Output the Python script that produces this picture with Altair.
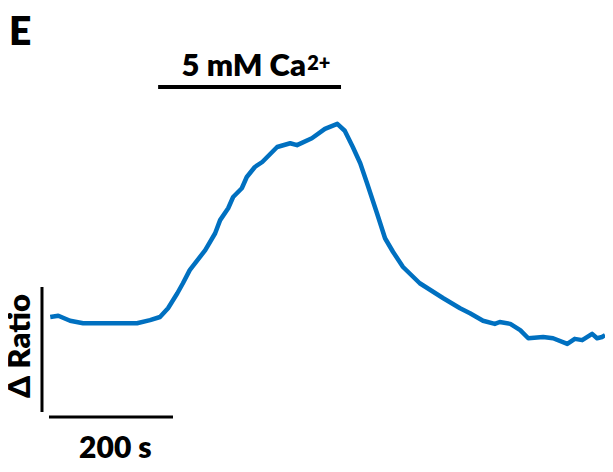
import altair as alt
import pandas as pd

# ---- trace data (time in s, fluorescence ratio) ----
time_s = [2, 15, 34, 55, 82, 110, 142, 163, 179, 192, 207, 216, 227, 252, 268,
          276, 289, 297, 311, 319, 332, 344, 352, 368, 389, 400, 424, 445, 465,
          477, 490, 502, 513, 529, 542, 555, 571, 598, 636, 663, 679, 700, 719,
          727, 744, 760, 773, 797, 813, 836, 848, 860, 876, 884, 892, 897]
ratio = [1.008, 1.010, 1.002, 0.998, 0.998, 0.998, 0.998, 1.003, 1.008, 1.022,
         1.046, 1.062, 1.083, 1.115, 1.142, 1.163, 1.182, 1.200, 1.214, 1.232,
         1.248, 1.256, 1.264, 1.280, 1.286, 1.283, 1.294, 1.309, 1.317, 1.306,
         1.280, 1.254, 1.222, 1.174, 1.134, 1.112, 1.088, 1.062, 1.038, 1.022,
         1.014, 1.002, 0.997, 1.000, 0.997, 0.987, 0.974, 0.976, 0.974, 0.965,
         0.973, 0.971, 0.981, 0.974, 0.976, 0.979]

# ---- stimulus and scale bars ----
stim_label = "5 mM Ca"
stim_sup = "2+"
stim_start, stim_end = 176, 471
time_bar = [0, 200]          # 200 s
ratio_bar = [0.856, 1.056]   # Δ Ratio scale
time_bar_label = "200 s"
ratio_bar_label = "Δ Ratio"
panel_label = "E"

X_DOM = [-56.45, 896.77]
Y_DOM = [0.7728, 1.4928]
xs = alt.Scale(domain=X_DOM, nice=False, zero=False)
ys = alt.Scale(domain=Y_DOM, nice=False, zero=False)

FONT = "Lato"
WEIGHT = 800
BLUE = "#0070C0"

trace_df = pd.DataFrame({"t": time_s, "r": ratio})
trace = alt.Chart(trace_df).mark_line(color=BLUE, strokeWidth=4.5, strokeJoin="round").encode(
    x=alt.X("t:Q", scale=xs, axis=None),
    y=alt.Y("r:Q", scale=ys, axis=None),
)

stim_df = pd.DataFrame({"t": [stim_start], "t2": [stim_end], "r": [1.376]})
stim = alt.Chart(stim_df).mark_rule(color="black", strokeWidth=4).encode(
    x=alt.X("t:Q", scale=xs, axis=None), x2="t2:Q", y=alt.Y("r:Q", scale=ys, axis=None))

tbar_df = pd.DataFrame({"t": [time_bar[0]], "t2": [time_bar[1]], "r": [0.848]})
tbar = alt.Chart(tbar_df).mark_rule(color="black", strokeWidth=3).encode(
    x=alt.X("t:Q", scale=xs, axis=None), x2="t2:Q", y=alt.Y("r:Q", scale=ys, axis=None))

rbar_df = pd.DataFrame({"t": [-11.3], "r": [ratio_bar[0]], "r2": [ratio_bar[1]]})
rbar = alt.Chart(rbar_df).mark_rule(color="black", strokeWidth=3).encode(
    x=alt.X("t:Q", scale=xs, axis=None), y=alt.Y("r:Q", scale=ys, axis=None), y2="r2:Q")


def label(text, t, r, size, align="left", angle=0):
    df = pd.DataFrame({"t": [t], "r": [r], "s": [text]})
    return alt.Chart(df).mark_text(
        font=FONT, fontWeight=WEIGHT, fontSize=size, align=align,
        baseline="alphabetic", angle=angle, color="black"
    ).encode(x=alt.X("t:Q", scale=xs, axis=None), y=alt.Y("r:Q", scale=ys, axis=None), text="s:N")


txt_stim = label(stim_label, 414.5, 1.3936, 31, align="right")
txt_sup = label(stim_sup, 416.5, 1.4032, 20, align="left")
txt_time = label(time_bar_label, 107, 0.7824, 30, align="center")
txt_ratio = label(ratio_bar_label, -30.6, 0.9616, 31, align="center", angle=270)
txt_panel = label(panel_label, -64.5, 1.4432, 39, align="left")

chart = alt.layer(stim, tbar, rbar, trace, txt_stim, txt_sup, txt_time, txt_ratio, txt_panel).properties(
    width=591, height=450,
    padding={"left": 6, "top": 6, "right": 0, "bottom": 0},
    autosize=alt.AutoSizeParams(type="none"),
).configure_view(stroke=None)

chart.save("out.html", embed_options={"renderer": "svg", "actions": False})
